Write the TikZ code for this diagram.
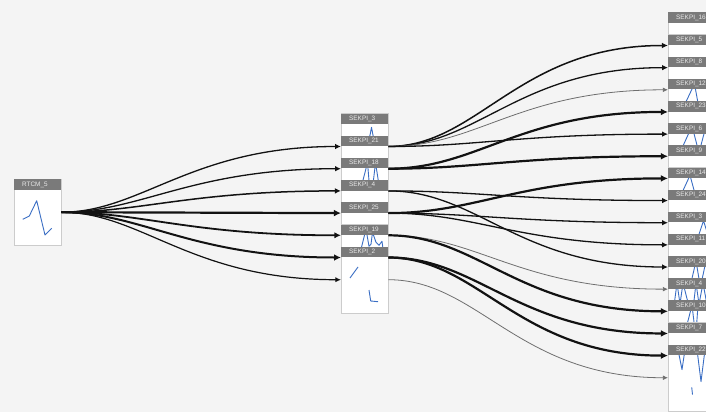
\documentclass[tikz,border=0pt]{standalone}
\usepackage{fontspec}
\setmainfont{Liberation Sans}
\usetikzlibrary{arrows.meta}
\definecolor{kgray}{RGB}{122,122,122}
\definecolor{kblue}{RGB}{58,110,196}
\definecolor{kback}{RGB}{244,244,244}
\definecolor{kline}{RGB}{18,18,18}
\definecolor{kthin}{RGB}{110,110,110}

\tikzset{
  kpibody/.style={draw=black!20, fill=white, minimum width=47pt, minimum height=66pt,
    inner sep=0pt, anchor=north west},
  kpihead/.style={fill=kgray, text=white!92!black, font=\fontsize{6.4}{6.4}\selectfont,
    minimum height=10.5pt, inner sep=0pt, text width=47pt, align=left, anchor=north west},
  spark/.style={draw=kblue, line width=0.9pt, line join=round},
  flow/.style={draw=kline, line width=#1,
    -{Latex[length=4pt 1.4, width=3.5pt 1.5]}},
}

% box with header and sparkline: name, x, top, label, path
\newcommand{\kpibox}[5]{%
  \node[kpibody] (#1) at (#2,#3) {};
  \begin{scope}[shift={(#2,#3)}]
    \draw[spark] #5;
  \end{scope}
  \node[kpihead] (#1-h) at (#1.north west) {\hspace*{8pt}#4};
}

\begin{document}
\begin{tikzpicture}[x=1pt, y=-1pt]
  \clip (0,0) rectangle (706,412);
  \fill[kback] (0,0) rectangle (706,412);

  % nodes first (placed), drawn over by later ones
  \kpibox{rtcm}{14}{179}{RTCM\_5}{(8.7,40.3) -- (15.3,37) -- (22.7,21.7) -- (31,56) -- (37.7,49.3)}

  % middle column
  \kpibox{m1}{341}{113.3}{SEKPI\_3}{(5,40) -- (20,45) -- (29,22) -- (30.5,14) -- (32,22) -- (40,50)}
  \kpibox{m2}{341}{135.5}{SEKPI\_21}{(5,50) -- (20,40) -- (35,55)}
  \kpibox{m3}{341}{157.7}{SEKPI\_18}{(8,45) -- (18,38) -- (26.5,5) -- (29,35) -- (31,35) -- (34.5,5) -- (40,40)}
  \kpibox{m4}{341}{179.9}{SEKPI\_4}{(5,45) -- (20,35) -- (35,50)}
  \kpibox{m5}{341}{202.1}{SEKPI\_25}{(5,35) -- (22,50) -- (38,40)}
  \kpibox{m6}{341}{224.3}{SEKPI\_19}{(15,45) -- (25,5) -- (28,22) -- (30,20) -- (31.5,8) -- (35,18) -- (38,21) -- (41,17) -- (44,40)}
  \kpibox{m7}{341}{246.5}{SEKPI\_2}{(9,31.5) -- (17,20.5) (28,43.5) -- (29.7,54.5) -- (37,55.2)}

  % right column
  \kpibox{r1}{668}{12.3}{SEKPI\_16}{(5,45) -- (20,35) -- (35,50)}
  \kpibox{r2}{668}{34.45}{SEKPI\_5}{(5,40) -- (20,50) -- (35,38)}
  \kpibox{r3}{668}{56.6}{SEKPI\_8}{(5,45) -- (20,35) -- (35,50)}
  \kpibox{r4}{668}{78.75}{SEKPI\_12}{(10,40) -- (26.5,5) -- (31,30) -- (40,45)}
  \kpibox{r5}{668}{100.9}{SEKPI\_23}{(5,45) -- (20,35) -- (35,50)}
  \kpibox{r6}{668}{123.05}{SEKPI\_6}{(5,45) -- (24,3) -- (29.5,24) -- (32.5,24) -- (38,3) -- (45,30)}
  \kpibox{r7}{668}{145.2}{SEKPI\_9}{(5,45) -- (20,35) -- (35,50)}
  \kpibox{r8}{668}{167.35}{SEKPI\_14}{(5,45) -- (22,8) -- (28,30) -- (38,40)}
  \kpibox{r9}{668}{189.5}{SEKPI\_24}{(5,45) -- (20,35) -- (35,50)}
  \kpibox{r10}{668}{211.65}{SEKPI\_3}{(10,45) -- (31,22.5) -- (35.5,9) -- (42,30)}
  \kpibox{r11}{668}{233.8}{SEKPI\_11}{(5,45) -- (20,35) -- (35,50)}
  \kpibox{r12}{668}{255.95}{SEKPI\_20}{(20,40) -- (28,5) -- (31.5,26) -- (33.5,26) -- (38,5)}
  \kpibox{r13}{668}{278.1}{SEKPI\_4}{(5,35) -- (9,5) -- (12,26) -- (15,5) -- (24,40) -- (28,5) -- (31,26) -- (35,5) -- (40,32)}
  \kpibox{r14}{668}{300.25}{SEKPI\_10}{(15,40) -- (24,5) -- (26.5,26) -- (28.5,26) -- (30,5)}
  \kpibox{r15}{668}{322.4}{SEKPI\_7}{(5,45) -- (20,35) -- (35,50)}
  \kpibox{r16}{668}{344.55}{SEKPI\_22}{(10,5) -- (14,25) -- (17,5) (29,5) -- (33,37) -- (37,5) (23.7,42.7) -- (24.5,50)}

  % flows from RTCM_5
  \draw[flow=1.3pt] (rtcm.east) .. controls +(80,0) and +(-150,0) .. (m1.west);
  \draw[flow=1.3pt] (rtcm.east) .. controls +(80,0) and +(-150,0) .. (m2.west);
  \draw[flow=1.5pt] (rtcm.east) .. controls +(80,0) and +(-150,0) .. (m3.west);
  \draw[flow=2.2pt] (rtcm.east) -- (m4.west);
  \draw[flow=1.8pt] (rtcm.east) .. controls +(80,0) and +(-150,0) .. (m5.west);
  \draw[flow=2pt] (rtcm.east) .. controls +(80,0) and +(-150,0) .. (m6.west);
  \draw[flow=1.2pt] (rtcm.east) .. controls +(80,0) and +(-150,0) .. (m7.west);

  % flows to the right column
  \draw[flow=1.5pt] (m1.east) .. controls +(90,0) and +(-150,0) .. (r1.west);
  \draw[flow=1.3pt] (m1.east) .. controls +(90,0) and +(-150,0) .. (r2.west);
  \draw[flow=0.8pt, draw=kthin] (m1.east) .. controls +(90,0) and +(-150,0) .. (r3.west);
  \draw[flow=1.3pt] (m1.east) .. controls +(90,0) and +(-150,0) .. (r5.west);
  \draw[flow=2.2pt] (m2.east) .. controls +(90,0) and +(-150,0) .. (r4.west);
  \draw[flow=2.2pt] (m2.east) .. controls +(90,0) and +(-150,0) .. (r6.west);
  \draw[flow=1.3pt] (m3.east) .. controls +(90,0) and +(-150,0) .. (r8.west);
  \draw[flow=1.3pt] (m3.east) .. controls +(90,0) and +(-150,0) .. (r11.west);
  \draw[flow=2.2pt] (m4.east) .. controls +(90,0) and +(-150,0) .. (r7.west);
  \draw[flow=1.3pt] (m4.east) .. controls +(90,0) and +(-150,0) .. (r9.west);
  \draw[flow=1.3pt] (m4.east) .. controls +(90,0) and +(-150,0) .. (r10.west);
  \draw[flow=0.8pt, draw=kthin] (m5.east) .. controls +(90,0) and +(-150,0) .. (r12.west);
  \draw[flow=2.2pt] (m5.east) .. controls +(90,0) and +(-150,0) .. (r13.west);
  \draw[flow=2.2pt] (m6.east) .. controls +(90,0) and +(-150,0) .. (r14.west);
  \draw[flow=2.2pt] (m6.east) .. controls +(90,0) and +(-150,0) .. (r15.west);
  \draw[flow=0.8pt, draw=kthin] (m7.east) .. controls +(90,0) and +(-150,0) .. (r16.west);
\end{tikzpicture}
\end{document}
